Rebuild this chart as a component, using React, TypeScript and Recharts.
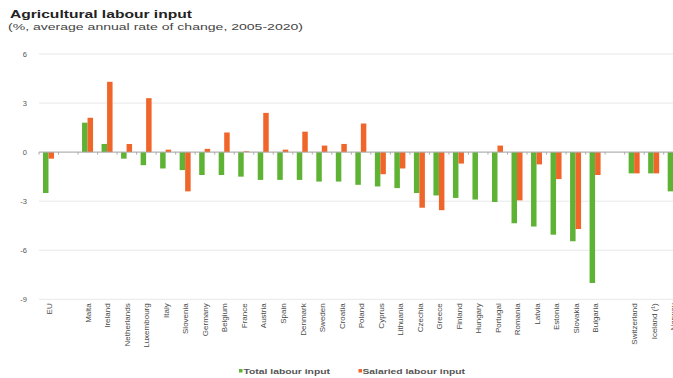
import React from 'react';
import { BarChart, Bar, XAxis, YAxis, CartesianGrid, ReferenceLine, Legend } from 'recharts';

// Countries in display order; blank entries are spacer slots between groups.
const countries = [
  'EU', ' ', 'Malta', 'Ireland', 'Netherlands', 'Luxembourg', 'Italy', 'Slovenia', 'Germany',
  'Belgium', 'France', 'Austria', 'Spain', 'Denmark', 'Sweden', 'Croatia', 'Poland', 'Cyprus',
  'Lithuania', 'Czechia', 'Greece', 'Finland', 'Hungary', 'Portugal', 'Romania', 'Latvia',
  'Estonia', 'Slovakia', 'Bulgaria', '  ', 'Switzerland', 'Iceland (¹)', 'Norway',
];

// Average annual rate of change, 2005-2020 (%)
const totalLabourInput = [
  -2.5, null, 1.8, 0.5, -0.4, -0.8, -1.0, -1.1, -1.4,
  -1.4, -1.5, -1.7, -1.7, -1.7, -1.8, -1.8, -2.0, -2.1,
  -2.2, -2.5, -2.65, -2.8, -2.9, -3.05, -4.35, -4.55,
  -5.05, -5.45, -8.0, null, -1.3, -1.3, -2.4,
];

const salariedLabourInput = [
  -0.4, null, 2.1, 4.3, 0.5, 3.3, 0.15, -2.4, 0.2,
  1.2, 0.05, 2.4, 0.15, 1.25, 0.4, 0.5, 1.75, -1.35,
  -1.0, -3.4, -3.55, -0.7, 0, 0.4, -2.95, -0.75,
  -1.65, -4.7, -1.4, null, -1.3, -1.3, null,
];

const yTicks = [-9, -6, -3, 0, 3, 6];

const seriesNames = ['Total labour input', 'Salaried labour input'];
const seriesColors = ['#5EB234', '#F0662A'];

const data = countries.map((country, i) => ({
  country,
  total: totalLabourInput[i],
  salaried: salariedLabourInput[i],
}));

const FONT = '"Liberation Sans", Arial, sans-serif';

const CountryTick = (props: any) => {
  const { x, y, payload } = props;
  return (
    <text
      x={0}
      y={0}
      transform={`translate(${x + 0.5},${y}) rotate(-90)`}
      textAnchor="end"
      dominantBaseline="central"
      fontSize={8}
      fontFamily={FONT}
      fill="#4a4a4a"
    >
      {payload.value}
    </text>
  );
};

const ValueTick = (props: any) => {
  const { y, payload } = props;
  return (
    <text x={27} y={y} textAnchor="end" dominantBaseline="central" fontSize={7.5} fontFamily={FONT} fill="#555">
      {payload.value}
    </text>
  );
};

const LegendContent = () => (
  <svg width={673} height={16} style={{ display: 'block', overflow: 'visible' }}>
    <rect x={239} y={7} width={3.5} height={3.5} fill={seriesColors[0]} />
    <text x={243.5} y={11.5} fontSize={7.7} fontWeight="bold" fontFamily={FONT} fill="#555"
      textLength={86.5} lengthAdjust="spacingAndGlyphs">
      {seriesNames[0]}
    </text>
    <rect x={358.5} y={7} width={3.5} height={3.5} fill={seriesColors[1]} />
    <text x={362.5} y={11.5} fontSize={7.7} fontWeight="bold" fontFamily={FONT} fill="#555"
      textLength={102.5} lengthAdjust="spacingAndGlyphs">
      {seriesNames[1]}
    </text>
  </svg>
);

export default function App() {
  return (
    <div style={{ position: 'absolute', left: 0, top: 0, width: 673, height: 378, overflow: 'hidden', background: '#fff' }}>
      <svg width={673} height={40} style={{ position: 'absolute', left: 0, top: 0 }}>
        <text x={10} y={18.3} fontSize={10.2} fontWeight="bold" fontFamily={FONT} fill="#222"
          textLength={182} lengthAdjust="spacingAndGlyphs">
          Agricultural labour input
        </text>
        <text x={8} y={29.8} fontSize={9.7} fontFamily={FONT} fill="#444"
          textLength={295} lengthAdjust="spacingAndGlyphs">
          (%, average annual rate of change, 2005-2020)
        </text>
      </svg>
      <BarChart
        width={700}
        height={378}
        data={data}
        margin={{ top: 54, right: 16.8, bottom: 0, left: 0 }}
        barGap={0}
        style={{ position: 'absolute', left: 0, top: 0 }}
      >
        <CartesianGrid vertical={false} stroke="#e8e8e8" />
        <YAxis
          domain={[-9, 6]}
          ticks={yTicks}
          interval={0}
          axisLine={false}
          tickLine={false}
          width={39}
          tick={<ValueTick />}
        />
        <XAxis
          dataKey="country"
          interval={0}
          axisLine={false}
          tickLine={false}
          tickSize={0}
          tickMargin={4}
          height={78.7}
          tick={<CountryTick />}
        />
        <ReferenceLine y={0} stroke="#aaa" strokeWidth={1} />
        {countries.map((c, i) => (
          <ReferenceLine
            key={`tk-${i}`}
            segment={[{ x: c, y: 0 }, { x: c, y: -0.15 }]}
            position="start"
            stroke="#aaa"
            strokeWidth={1}
          />
        ))}
        <Bar dataKey="total" name={seriesNames[0]} fill={seriesColors[0]} barSize={5.5} isAnimationActive={false} />
        <Bar dataKey="salaried" name={seriesNames[1]} fill={seriesColors[1]} barSize={5.5} isAnimationActive={false} />
        <Legend content={<LegendContent />} wrapperStyle={{ left: 0, top: 362, width: 673, height: 0 }} />
      </BarChart>
    </div>
  );
}
